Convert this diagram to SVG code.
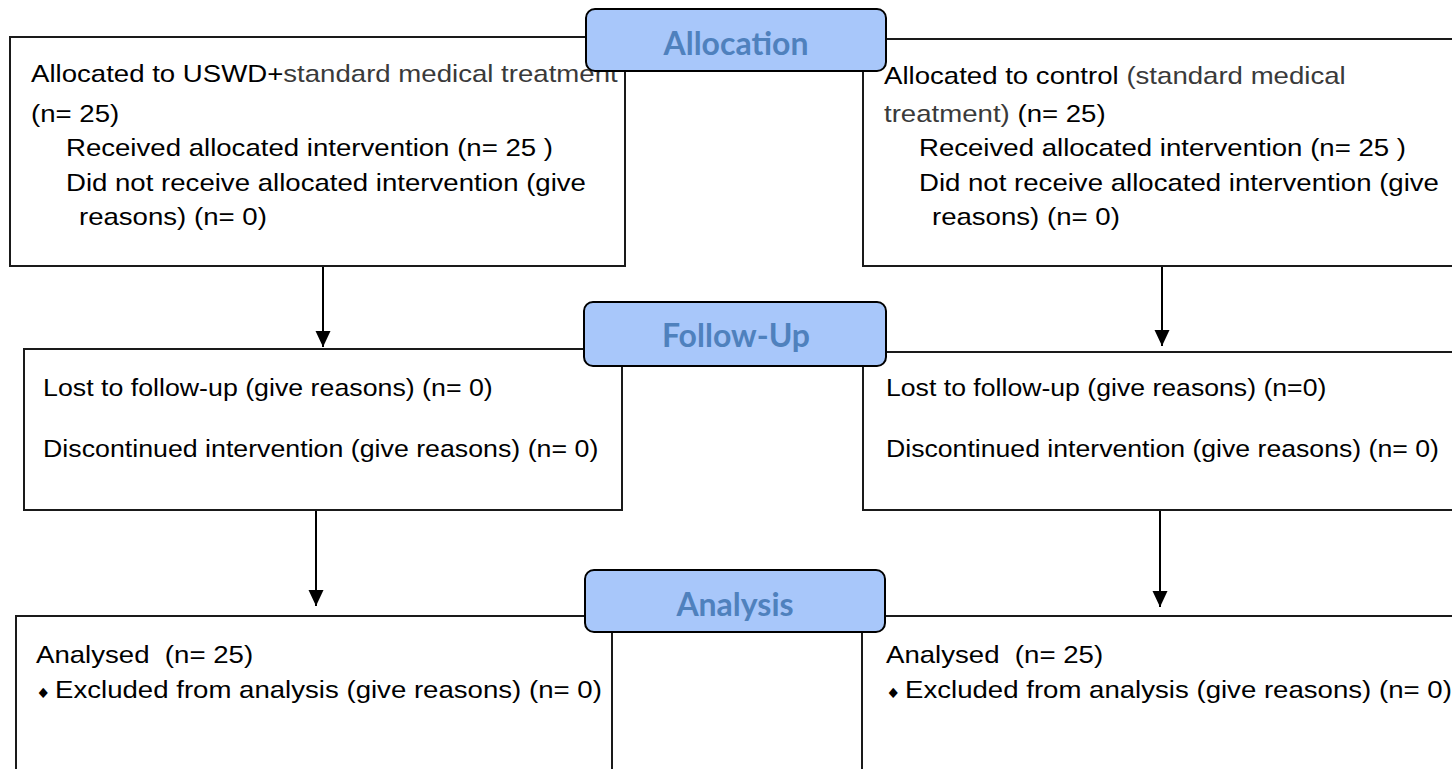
<svg xmlns="http://www.w3.org/2000/svg" width="1452" height="769" viewBox="0 0 1452 769">
<style>
  .box{fill:#ffffff;stroke:#1a1a1a;stroke-width:2}
  .badge{fill:#a8c7fa;stroke:#000000;stroke-width:2}
  .bt{font-family:Lato,"Open Sans","Liberation Sans",sans-serif;font-weight:bold;font-size:32px;fill:#4f81bd;text-anchor:middle}
  .t{font-family:"Liberation Sans",Arial,sans-serif;font-size:24px;fill:#000000}
  .g{fill:#3a3a3a}
  .dm{font-family:"DejaVu Sans",sans-serif;font-size:14px}
  .conn line{stroke:#000000;stroke-width:2;fill:none}
</style>
<defs>
  <marker id="arr" markerUnits="userSpaceOnUse" markerWidth="16" markerHeight="16" refX="16" refY="7.5" orient="auto">
    <path d="M0,0 L16,7.5 L0,15 Z" fill="#000000"/>
  </marker>
</defs>
<rect width="1452" height="769" fill="#ffffff"/>

<g id="connectors" class="conn">
  <line x1="323" y1="266" x2="323" y2="347" marker-end="url(#arr)"/>
  <line x1="1162" y1="266" x2="1162" y2="346" marker-end="url(#arr)"/>
  <line x1="316" y1="510" x2="316" y2="606" marker-end="url(#arr)"/>
  <line x1="1160" y1="510" x2="1160" y2="607" marker-end="url(#arr)"/>
</g>

<g id="alloc-left">
  <rect class="box" x="10" y="37" width="615" height="229"/>
  <text class="t" transform="translate(31,0) scale(1.15,1)">
    <tspan x="0" y="82">Allocated to USWD+<tspan class="g">standard medical treatment</tspan></tspan>
    <tspan x="0" y="122">(n= 25)</tspan>
    <tspan x="30.4" y="156">Received allocated intervention (n= 25 )</tspan>
    <tspan x="30.4" y="191">Did not receive allocated intervention (give</tspan>
    <tspan x="41.7" y="225">reasons) (n= 0)</tspan>
  </text>
</g>

<g id="alloc-right">
  <rect class="box" x="863" y="39" width="620" height="227"/>
  <text class="t" transform="translate(884,0) scale(1.15,1)">
    <tspan x="0" y="84">Allocated to control <tspan class="g">(standard medical</tspan></tspan>
    <tspan x="0" y="122"><tspan class="g">treatment)</tspan> (n= 25)</tspan>
    <tspan x="30.4" y="156">Received allocated intervention (n= 25 )</tspan>
    <tspan x="30.4" y="191">Did not receive allocated intervention (give</tspan>
    <tspan x="41.7" y="225">reasons) (n= 0)</tspan>
  </text>
</g>

<g id="badge-allocation">
  <rect class="badge" x="586" y="9" width="300" height="62" rx="9"/>
  <text class="bt" x="736" y="55">Allocation</text>
</g>

<g id="follow-left">
  <rect class="box" x="24" y="349" width="598" height="161"/>
  <text class="t" transform="translate(43,0) scale(1.115,1)">
    <tspan x="0" y="396">Lost to follow-up (give reasons) (n= 0)</tspan>
    <tspan x="0" y="457">Discontinued intervention (give reasons) (n= 0)</tspan>
  </text>
</g>

<g id="follow-right">
  <rect class="box" x="863" y="352" width="620" height="158"/>
  <text class="t" transform="translate(886,0) scale(1.11,1)">
    <tspan x="0" y="396">Lost to follow-up (give reasons) (n=0)</tspan>
    <tspan x="0" y="457">Discontinued intervention (give reasons) (n= 0)</tspan>
  </text>
</g>

<g id="badge-followup">
  <rect class="badge" x="584" y="302" width="302" height="64" rx="9"/>
  <text class="bt" x="736" y="347">Follow-Up</text>
</g>

<g id="analysis-left">
  <rect class="box" x="16" y="616" width="596" height="200"/>
  <text class="t" transform="translate(36,0) scale(1.15,1)">
    <tspan x="0" y="663">Analysed&#160; (n= 25)</tspan>
    <tspan x="0" y="698"><tspan class="dm">♦</tspan><tspan dx="4">Excluded from analysis (give reasons) (n= 0)</tspan></tspan>
  </text>
</g>

<g id="analysis-right">
  <rect class="box" x="862" y="616" width="620" height="200"/>
  <text class="t" transform="translate(886,0) scale(1.15,1)">
    <tspan x="0" y="663">Analysed&#160; (n= 25)</tspan>
    <tspan x="0" y="698"><tspan class="dm">♦</tspan><tspan dx="4">Excluded from analysis (give reasons) (n= 0)</tspan></tspan>
  </text>
</g>

<g id="badge-analysis">
  <rect class="badge" x="585" y="570" width="300" height="62" rx="9"/>
  <text class="bt" x="735" y="616">Analysis</text>
</g>
</svg>
